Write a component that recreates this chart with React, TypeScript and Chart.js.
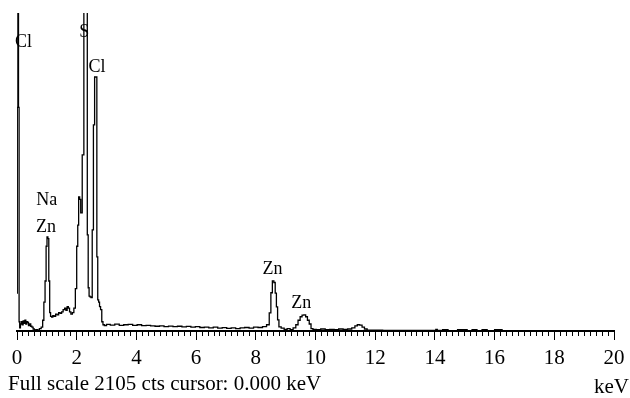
import React, { useEffect, useRef } from "react";
import { Chart, registerables } from "chart.js";

Chart.register(...registerables);

// Spectrum channels (keV) and counts
const energyKeV = [
  0.0, 0.02, 0.04, 0.06, 0.08, 0.1, 0.13, 0.16, 0.19, 0.22, 0.25, 0.28, 0.31, 0.34, 0.37, 0.4, 0.44, 0.48, 0.52, 0.56,
  0.6, 0.66, 0.72, 0.78, 0.84, 0.88, 0.92, 0.96, 0.99, 1.02, 1.05, 1.08, 1.11, 1.14, 1.18, 1.22, 1.27, 1.32, 1.37, 1.42,
  1.47, 1.52, 1.57, 1.62, 1.66, 1.7, 1.74, 1.78, 1.83, 1.88, 1.93, 1.98, 2.02, 2.05, 2.08, 2.12, 2.15, 2.22, 2.26, 2.3,
  2.34, 2.37, 2.4, 2.43, 2.46, 2.5, 2.54, 2.58, 2.62, 2.66, 2.69, 2.72, 2.75, 2.78, 2.82, 2.86, 2.9, 2.95, 3.05, 3.2,
  3.35, 3.5, 3.65, 3.8, 3.95, 4.1, 4.25, 4.4, 4.55, 4.7, 4.85, 5.0, 5.15, 5.3, 5.45, 5.6, 5.75, 5.9, 6.05, 6.2,
  6.35, 6.5, 6.65, 6.8, 6.95, 7.1, 7.25, 7.4, 7.55, 7.7, 7.85, 8.0, 8.15, 8.3, 8.42, 8.48, 8.53, 8.58, 8.63, 8.67,
  8.71, 8.75, 8.8, 8.9, 9.0, 9.1, 9.2, 9.3, 9.38, 9.45, 9.52, 9.58, 9.64, 9.7, 9.76, 9.82, 9.88, 9.95, 10.1, 10.25,
  10.4, 10.55, 10.7, 10.85, 11.0, 11.15, 11.28, 11.36, 11.44, 11.52, 11.6, 11.68, 11.78, 12.0, 12.5, 13.0, 13.5, 14.0, 14.06, 14.1,
  14.42, 14.46, 15.06, 15.1, 15.39, 15.43, 15.73, 15.77, 16.23, 16.27, 20.0,
];
const counts = [
  250, 1480, 2600, 1480, 60, 20, 45, 60, 40, 65, 50, 70, 45, 60, 55, 35, 45, 30, 25, 12,
  5, 8, 5, 15, 25, 70, 190, 330, 560, 622, 610, 330, 120, 95, 90, 100, 95, 110, 105, 120,
  115, 125, 140, 150, 135, 160, 150, 125, 110, 120, 150, 280, 560, 700, 887, 870, 781, 1165, 2600, 2600,
  2600, 636, 285, 230, 225, 220, 669, 1364, 1681, 1681, 490, 205, 190, 160, 140, 60, 40, 35, 42, 38,
  44, 36, 40, 42, 36, 40, 34, 36, 32, 30, 33, 28, 31, 27, 30, 26, 29, 24, 27, 22,
  24, 19, 25, 18, 21, 16, 20, 15, 19, 22, 18, 25, 22, 28, 40, 119, 252, 331, 320, 250,
  159, 73, 26, 18, 10, 14, 8, 20, 40, 70, 93, 104, 106, 93, 70, 45, 15, 10, 8, 12,
  7, 10, 8, 12, 9, 12, 20, 32, 40, 38, 25, 12, 5, 4, 3, 3, 2, 2, 9, 2,
  8, 1, 8, 1, 7, 1, 8, 1, 7, 0, 0,
];

// Peak annotations
const peakLabels = ["Cl", "S", "Cl", "Na", "Zn", "Zn", "Zn"];
const peakLabelKeV = [0.22, 2.25, 2.68, 1.0, 0.97, 8.56, 9.52];
const peakLabelCounts = [1880, 1946, 1715, 834, 655, 377, 152];

const fullScaleCounts = 2105;
const xMin = 0;
const xMax = 20;
const minorStep = 0.2;
const majorStep = 2;
const footerText = "Full scale 2105 cts cursor: 0.000 keV";
const unitText = "keV";

const SERIF = '"Liberation Serif", "Times New Roman", serif';

export default function App() {
  const canvasRef = useRef<HTMLCanvasElement | null>(null);

  useEffect(() => {
    document.body.style.margin = "0";
    const canvas = canvasRef.current;
    if (!canvas) return;

    const isMajor = (v: number) => Math.abs(v / majorStep - Math.round(v / majorStep)) < 1e-6;

    const labelPlugin = {
      id: "peakLabels",
      afterDatasetsDraw(chart: any) {
        const { ctx, scales } = chart;
        ctx.save();
        ctx.font = `18px ${SERIF}`;
        ctx.fillStyle = "#000";
        ctx.textAlign = "center";
        ctx.textBaseline = "alphabetic";
        peakLabels.forEach((t, i) => {
          const x = scales.x.getPixelForValue(peakLabelKeV[i]);
          const y = scales.y.getPixelForValue(peakLabelCounts[i]);
          ctx.fillText(t, x, y);
        });
        ctx.restore();
      },
    };

    const chart = new Chart(canvas, {
      type: "line",
      data: {
        datasets: [
          {
            data: energyKeV.map((x, i) => ({ x, y: counts[i] })),
            borderColor: "#000",
            borderWidth: 1.3,
            pointRadius: 0,
            stepped: "middle",
            fill: false,
          },
        ],
      },
      options: {
        animation: false,
        responsive: true,
        maintainAspectRatio: false,
        layout: { padding: { left: 17, right: 16, top: 13, bottom: 24 } },
        plugins: { legend: { display: false }, tooltip: { enabled: false } },
        scales: {
          x: {
            type: "linear",
            min: xMin,
            max: xMax,
            border: { display: true, color: "#000", width: 2 },
            grid: {
              drawOnChartArea: false,
              drawTicks: true,
              tickLength: 12,
              tickColor: "#000",
              tickWidth: 1,
              tickBorderDash: (ctx: any) => (ctx.tick && isMajor(ctx.tick.value) ? [8, 100] : [4, 100]),
            },
            ticks: {
              stepSize: minorStep,
              autoSkip: false,
              maxRotation: 0,
              padding: 3,
              color: "#000",
              font: { family: SERIF, size: 21 },
              callback: (v: any) => (isMajor(Number(v)) ? String(Math.round(Number(v))) : ""),
            },
          },
          y: {
            display: false,
            min: 0,
            max: fullScaleCounts,
          },
        },
      },
      plugins: [labelPlugin],
    });

    return () => chart.destroy();
  }, []);

  return (
    <div style={{ position: "relative", width: 630, height: 398 }}>
      <canvas ref={canvasRef} />
      <div
        style={{
          position: "absolute",
          left: 8,
          top: 373,
          font: `21px ${SERIF}`,
          lineHeight: "21px",
          whiteSpace: "nowrap",
          color: "#000",
        }}
      >
        {footerText}
      </div>
      <div
        style={{
          position: "absolute",
          right: 1,
          top: 376,
          font: `21px ${SERIF}`,
          lineHeight: "21px",
          whiteSpace: "nowrap",
          color: "#000",
        }}
      >
        {unitText}
      </div>
    </div>
  );
}
